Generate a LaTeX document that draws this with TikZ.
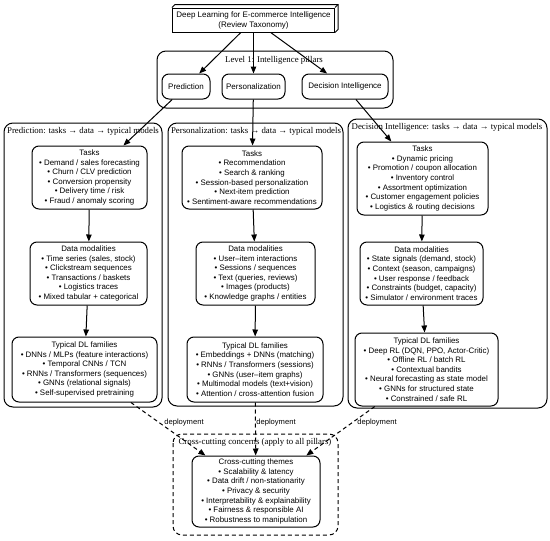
\documentclass[tikz,border=0pt]{standalone}
\usepackage{fontspec}
\setmainfont{Liberation Sans}
\newfontfamily\seriffont{Liberation Serif}
\usetikzlibrary{arrows.meta}
\begin{document}
\begin{tikzpicture}[x=1pt,y=-1pt,
  box/.style={draw, rounded corners=7pt, line width=1pt, align=center,
    font=\fontsize{7.9}{9.6}\selectfont, inner sep=0pt},
  pill/.style={draw, rounded corners=7pt, line width=1pt, align=center,
    font=\fontsize{8}{9.6}\selectfont, inner sep=0pt, minimum height=25pt},
  cluster/.style={draw, rounded corners=9pt, line width=1pt},
  clab/.style={font=\seriffont\fontsize{8.8}{10}\selectfont, inner sep=0pt},
  arr/.style={-{Triangle[length=7pt,width=5.5pt]}, line width=1pt},
  dep/.style={arr, dash pattern=on 4pt off 3pt},
  deplab/.style={font=\fontsize{7.6}{9}\selectfont, inner sep=0pt}
]
\useasboundingbox (0,0) rectangle (550,541);

% clusters
\draw[cluster] (157,51) rectangle (393,108);
\node[clab] (l1lab) at (274,60) {Level 1: Intelligence pillars};
\draw[cluster] (4,123) rectangle (162,407);
\node[clab] (c1lab) at (83,131) {Prediction: tasks → data → typical models};
\draw[cluster] (168,123) rectangle (343,406);
\node[clab] (c2lab) at (256,131) {Personalization: tasks → data → typical models};
\draw[cluster] (348,119) rectangle (547,408);
\node[clab] (c3lab) at (447,127) {Decision Intelligence: tasks → data → typical models};
\draw[cluster, dash pattern=on 4pt off 3pt] (173,434) rectangle (338,535);
\node[clab] (xlab) at (255,442) {Cross-cutting concerns (apply to all pillars)};

% top node (3d box)
\node[draw, line width=1pt, minimum width=162pt, minimum height=24pt, inner sep=0pt,
  align=center, font=\fontsize{8}{10}\selectfont] (top) at (253.5,20)
  {Deep Learning for E-commerce Intelligence\\(Review Taxonomy)};
\draw[line width=1pt] (top.north west) -- ++(3,-3) -- ([shift={(3,-3)}]top.north east)
  -- ([shift={(3,-3)}]top.south east) -- (top.south east);
\draw[line width=1pt] (top.north east) -- ++(3,-3);

% pillars
\node[pill, minimum width=48pt] (pred) at (186,86.5) {Prediction};
\node[pill, minimum width=63pt] (pers) at (253.5,86.5) {Personalization};
\node[pill, minimum width=86pt] (dec) at (345,86.5) {Decision Intelligence};

% prediction column
\node[box, minimum width=115pt, minimum height=63pt] (pt) at (89.5,177.5)
  {Tasks\\• Demand / sales forecasting\\• Churn / CLV prediction\\• Conversion propensity\\• Delivery time / risk\\• Fraud / anomaly scoring};
\node[box, minimum width=117pt, minimum height=63pt] (pd) at (88.5,273.5)
  {Data modalities\\• Time series (sales, stock)\\• Clickstream sequences\\• Transactions / baskets\\• Logistics traces\\• Mixed tabular + categorical};
\node[box, minimum width=145pt, minimum height=65pt] (pm) at (84.5,369.5)
  {Typical DL families\\• DNNs / MLPs (feature interactions)\\• Temporal CNNs / TCN\\• RNNs / Transformers (sequences)\\• GNNs (relational signals)\\• Self-supervised pretraining};

% personalization column
\node[box, minimum width=140pt, minimum height=63pt] (nt) at (252,177.5)
  {Tasks\\• Recommendation\\• Search \& ranking\\• Session-based personalization\\• Next-item prediction\\• Sentiment-aware recommendations};
\node[box, minimum width=119pt, minimum height=63pt] (nd) at (255.5,273.5)
  {Data modalities\\• User–item interactions\\• Sessions / sequences\\• Text (queries, reviews)\\• Images (products)\\• Knowledge graphs / entities};
\node[box, minimum width=136pt, minimum height=65pt] (nm) at (255,369.5)
  {Typical DL families\\• Embeddings + DNNs (matching)\\• RNNs / Transformers (sessions)\\• GNNs (user–item graphs)\\• Multimodal models (text+vision)\\• Attention / cross-attention fusion};

% decision column
\node[box, minimum width=131pt, minimum height=73pt] (dt) at (422.5,178.5)
  {Tasks\\• Dynamic pricing\\• Promotion / coupon allocation\\• Inventory control\\• Assortment optimization\\• Customer engagement policies\\• Logistics \& routing decisions};
\node[box, minimum width=123pt, minimum height=63pt] (dd) at (421.5,273.5)
  {Data modalities\\• State signals (demand, stock)\\• Context (season, campaigns)\\• User response / feedback\\• Constraints (budget, capacity)\\• Simulator / environment traces};
\node[box, minimum width=143pt, minimum height=73pt] (dm) at (426.5,369.5)
  {Typical DL families\\• Deep RL (DQN, PPO, Actor-Critic)\\• Offline RL / batch RL\\• Contextual bandits\\• Neural forecasting as state model\\• GNNs for structured state\\• Constrained / safe RL};

% cross-cutting
\node[box, minimum width=128pt, minimum height=71pt] (th) at (256,491.5)
  {Cross-cutting themes\\• Scalability \& latency\\• Data drift / non-stationarity\\• Privacy \& security\\• Interpretability \& explainability\\• Fairness \& responsible AI\\• Robustness to manipulation};

% edges
\draw[arr] (top) -- (pred);
\draw[arr] (top) -- (pers);
\draw[arr] (top) -- (dec);
\draw[arr] (pred) -- (pt);
\draw[arr] (pers) -- (nt);
\draw[arr] (dec) -- (dt);
\draw[arr] (pt) -- (pd);
\draw[arr] (pd) -- (pm);
\draw[arr] (nt) -- (nd);
\draw[arr] (nd) -- (nm);
\draw[arr] (dt) -- (dd);
\draw[arr] (dd) -- (dm);
\draw[dep] (pm) -- (th);
\draw[dep] (nm) -- (th);
\draw[dep] (dm) -- (th);
\node[deplab] (dl1) at (184,423) {deployment};
\node[deplab] (dl2) at (276,423) {deployment};
\node[deplab] (dl3) at (377,423) {deployment};
\end{tikzpicture}
\end{document}
